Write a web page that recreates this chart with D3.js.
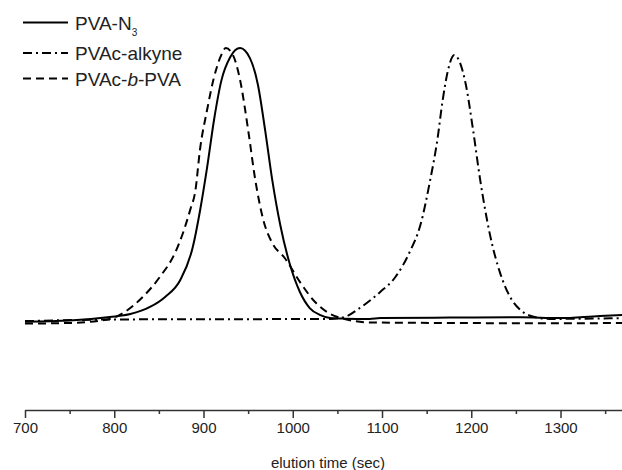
<!DOCTYPE html>
<html>
<head>
<meta charset="utf-8">
<title>Elution</title>
<script src="https://d3js.org/d3.v7.min.js"></script>
<style>
  body { margin: 0; background: #fff; }
  text { font-family: "Liberation Sans", Arial, sans-serif; fill: #222; }
</style>
</head>
<body>
<div id="chart"></div>
<script>
// elution time (sec) and normalised detector response
var pvaN3Time = [700, 750, 795, 818, 840, 857, 874, 888, 896, 904, 912, 920, 930, 941, 952, 961, 969, 977, 986, 997, 1008, 1019, 1031, 1042, 1058, 1086, 1098, 1176, 1255, 1299, 1344, 1369];
var pvaN3Value = [-0.006, -0.002, 0.011, 0.022, 0.048, 0.085, 0.147, 0.268, 0.40, 0.56, 0.74, 0.88, 0.967, 1.0, 0.963, 0.864, 0.699, 0.515, 0.349, 0.202, 0.103, 0.044, 0.018, 0.007, 0.005, 0.004, 0.007, 0.009, 0.010, 0.007, 0.015, 0.018];

var alkyneTime = [700, 806, 1042, 1058, 1075, 1098, 1115, 1131, 1143, 1154, 1162, 1168, 1174, 1181, 1187, 1194, 1202, 1210, 1221, 1232, 1243, 1255, 1271, 1288, 1369];
var alkyneValue = [-0.004, 0.002, 0.004, 0.011, 0.044, 0.103, 0.158, 0.25, 0.349, 0.515, 0.662, 0.809, 0.919, 0.974, 0.949, 0.864, 0.699, 0.515, 0.313, 0.176, 0.088, 0.037, 0.011, 0.004, 0.007];

var blockTime = [700, 750, 795, 810, 832, 851, 868, 877, 885, 891, 896, 904, 911, 919, 925, 933, 941, 950, 958, 967, 977, 991, 1008, 1025, 1042, 1058, 1086, 1176, 1299, 1369];
var blockValue = [-0.013, -0.011, 0.004, 0.026, 0.085, 0.158, 0.246, 0.320, 0.404, 0.478, 0.625, 0.772, 0.882, 0.967, 1.0, 0.974, 0.882, 0.699, 0.515, 0.368, 0.283, 0.228, 0.140, 0.066, 0.022, 0.004, -0.009, -0.011, -0.012, -0.011];

var xTicks = d3.range(700, 1370, 50);

var width = 622, height = 470;

var x = d3.scaleLinear().domain([700, 1370]).range([25, 623]);
var y = d3.scaleLinear().domain([0, 1]).range([320, 48]);

var svg = d3.select('#chart')
  .append('svg')
  .attr('width', width)
  .attr('height', height);

var series = [
  { name: 'PVA-N3', time: pvaN3Time, value: pvaN3Value, dash: null },
  { name: 'PVAc-alkyne', time: alkyneTime, value: alkyneValue, dash: '9,4,2,4' },
  { name: 'PVAc-b-PVA', time: blockTime, value: blockValue, dash: '8,5' }
];

var line = d3.line()
  .x(function(d) { return x(d[0]); })
  .y(function(d) { return y(d[1]); })
  .curve(d3.curveMonotoneX);

series.forEach(function(s) {
  var pts = s.time.map(function(t, i) { return [t, s.value[i]]; });
  svg.append('path')
    .attr('d', line(pts))
    .attr('fill', 'none')
    .attr('stroke', '#000')
    .attr('stroke-width', 2)
    .attr('stroke-dasharray', s.dash);
});

// x axis
var axis = svg.append('g')
  .attr('transform', 'translate(0,410)')
  .call(d3.axisBottom(x)
    .tickValues(xTicks)
    .tickSizeOuter(0)
    .tickFormat(function(d) { return d % 100 === 0 ? d : ''; }));

axis.select('.domain').attr('stroke', '#333').attr('stroke-width', 1.5);
axis.selectAll('.tick line')
  .attr('stroke', '#333')
  .attr('stroke-width', 1.5)
  .attr('y2', function(d) { return d % 100 === 0 ? 8 : 4; });
axis.selectAll('.tick text')
  .attr('y', 12)
  .attr('dy', '0.71em')
  .style('font-size', '15px')
  .style('fill', '#222');

svg.append('text')
  .attr('x', 328)
  .attr('y', 468)
  .attr('text-anchor', 'middle')
  .style('font-size', '15px')
  .text('elution time (sec)');

// legend
var legendY = [22.5, 53, 78.5];
series.forEach(function(s, i) {
  svg.append('line')
    .attr('x1', 23).attr('x2', 68)
    .attr('y1', legendY[i]).attr('y2', legendY[i])
    .attr('stroke', '#000')
    .attr('stroke-width', 2)
    .attr('stroke-dasharray', s.dash);
});

var t0 = svg.append('text').attr('x', 75).attr('y', legendY[0] + 7).style('font-size', '19px');
t0.append('tspan').text('PVA-N');
t0.append('tspan').attr('dy', 6).style('font-size', '10px').text('3');

svg.append('text').attr('x', 75).attr('y', legendY[1] + 7).style('font-size', '19px')
  .text('PVAc-alkyne');

var t2 = svg.append('text').attr('x', 75).attr('y', legendY[2] + 7).style('font-size', '19px');
t2.append('tspan').text('PVAc-');
t2.append('tspan').style('font-style', 'italic').text('b');
t2.append('tspan').text('-PVA');
</script>
</body>
</html>
